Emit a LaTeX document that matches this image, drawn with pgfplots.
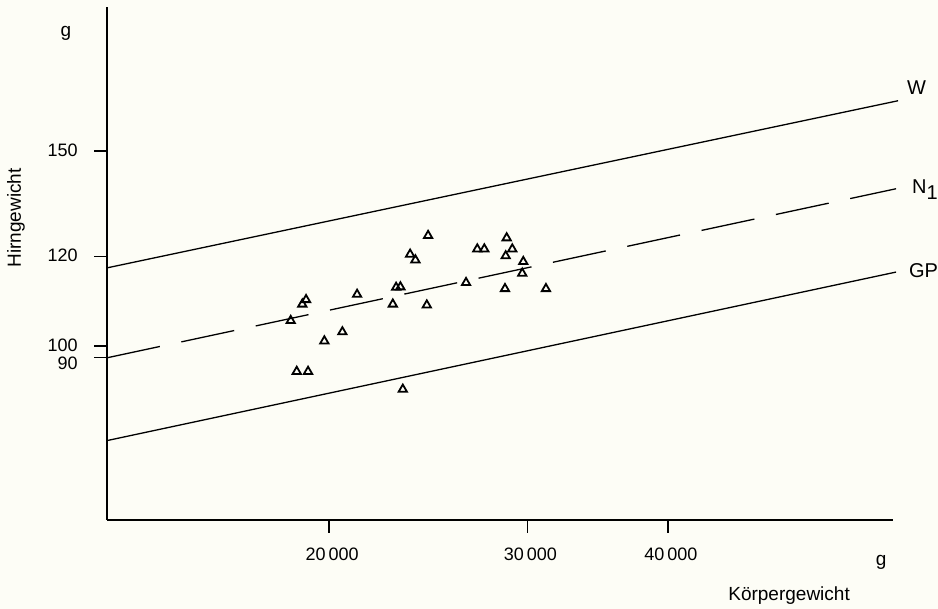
\documentclass[border=0pt]{standalone}
\usepackage{pgfplots}
\pgfplotsset{compat=1.18}
\usepackage{fontspec}
\setmainfont{Liberation Sans}
\definecolor{bg}{RGB}{253,253,246}
\begin{document}
\begin{tikzpicture}
\useasboundingbox (-53.5pt,-44.5pt) rectangle (415.5pt,260pt);
\fill[bg] (-53.5pt,-44.5pt) rectangle (415.5pt,260pt);
\begin{axis}[
  at={(0,0)}, anchor=south west,
  scale only axis, width=393pt, height=256.5pt,
  xmode=log, ymode=log,
  xmin=12701, xmax=63389, ymin=70.06, ymax=200,
  axis x line*=bottom, axis y line*=left,
  axis line style={line width=0.7pt, black},
  xtick={20000,30000,40000},
  xticklabels={20\,000,30\,000,40\,000},
  ytick={100,120,149},
  yticklabels={100,120,150},
  extra y ticks={97.6},
  extra y tick labels={90},
  extra y tick style={
    yticklabel style={yshift=-3.5pt},
  },
  minor xtick={}, minor ytick={},
  tick align=outside, major tick length=6.5pt,
  tick style={line width=0.7pt, black},
  /pgf/number format/assume math mode=true,
  tick label style={font=\fontsize{9}{10}\selectfont},
  xticklabel style={anchor=north, yshift=-4pt, xshift=1.5pt},
  yticklabel style={anchor=east, xshift=-8pt, inner sep=0pt, yshift=0.5pt},
  clip=false,
]
\addplot[black, line width=0.65pt] coordinates {(12701,117.3) (64040,165.1)};
\addplot[black, line width=0.65pt, dash pattern={on 27pt off 11pt}] coordinates {(12701,97.6) (63780,137.9)};
\addplot[black, line width=0.65pt] coordinates {(12701,82.4) (63780,116.3)};
\addplot[only marks, mark=triangle, mark size=2.4pt, mark options={fill=white, line width=0.9pt, draw=black}] table {
x y
18494 105.3
18937 108.9
19081 109.9
18721 94.9
19160 94.9
19810 101.0
20552 102.9
21180 111.1
22785 108.9
22939 112.7
23142 112.8
23256 91.5
23606 120.6
23863 119.2
24490 125.3
24425 108.7
26466 113.8
27083 121.9
27474 121.9
28760 124.7
29092 121.9
28702 120.2
29754 118.8
29693 116.0
28661 112.4
31165 112.4
};
\node[font=\fontsize{10}{12}\selectfont, anchor=base west] at (rel axis cs:1.0089,0.8285) {W};
\node[font=\fontsize{10}{12}\selectfont, anchor=base west] at (rel axis cs:1.0153,0.6355) {N\raisebox{-0.55ex}{1}};
\node[font=\fontsize{10}{12}\selectfont, anchor=base west] at (rel axis cs:1.0115,0.4717) {GP};
\node[font=\fontsize{9.5}{11}\selectfont, rotate=90] at (rel axis cs:-0.1158,0.5887) {Hirngewicht};
\node[font=\fontsize{9.5}{11}\selectfont] at (rel axis cs:-0.0522,0.9493) {g};
\node[font=\fontsize{9.5}{11}\selectfont] at (rel axis cs:0.9847,-0.0819) {g};
\node[font=\fontsize{9.5}{11}\selectfont] at (rel axis cs:0.8677,-0.1481) {Körpergewicht};
\end{axis}
\end{tikzpicture}
\end{document}
